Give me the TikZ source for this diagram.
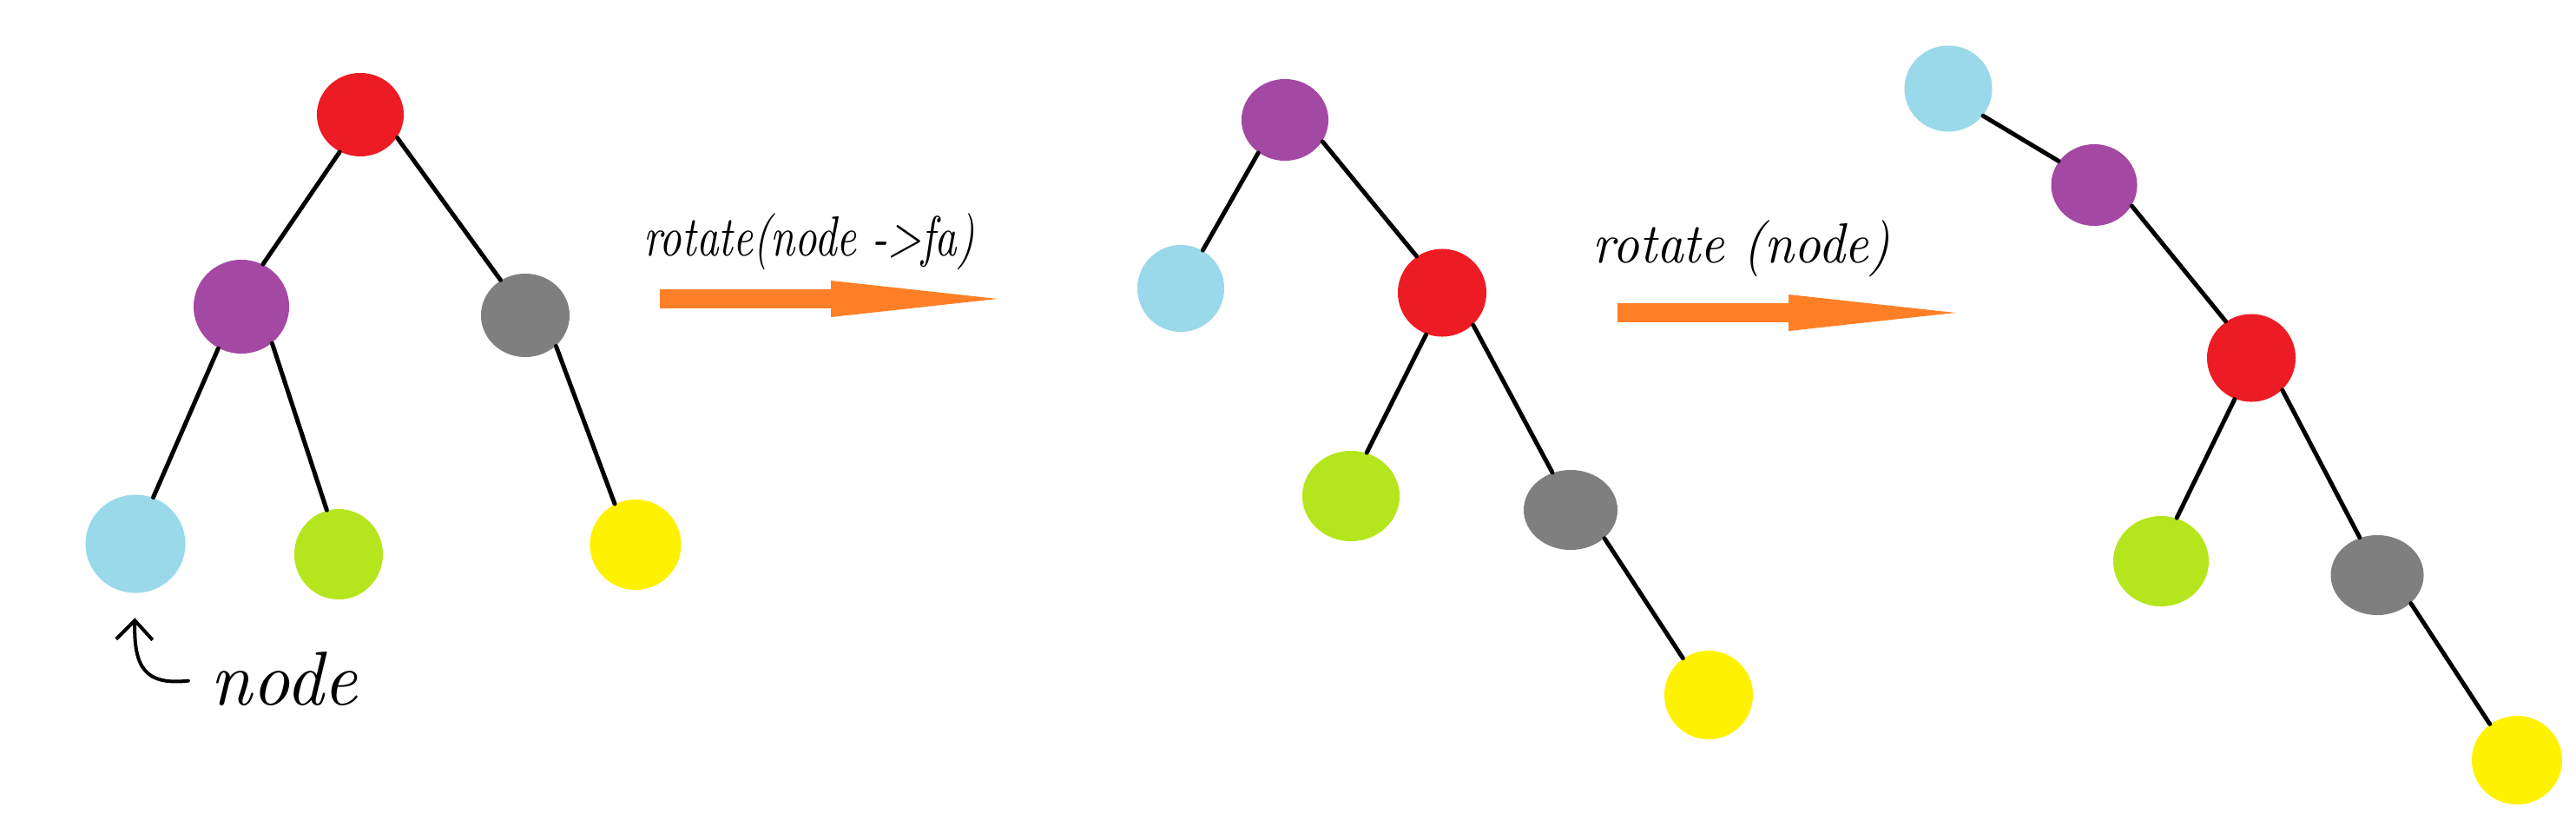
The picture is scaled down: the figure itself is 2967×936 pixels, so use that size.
\documentclass[tikz,border=0pt]{standalone}
\usepackage{fontspec}
\usepackage{tikz}
\usetikzlibrary{positioning}
\usetikzlibrary{shapes.geometric,arrows.meta}
\definecolor{paintRed}{HTML}{ED1C24}
\definecolor{paintPurple}{HTML}{A349A4}
\definecolor{paintGray}{HTML}{7F7F7F}
\definecolor{paintCyan}{HTML}{99D9EA}
\definecolor{paintLime}{HTML}{B5E61D}
\definecolor{paintYellow}{HTML}{FFF200}
\definecolor{paintOrange}{HTML}{FF7F27}
\tikzset{
    ball/.style n args={3}{ellipse, fill=#1, inner sep=0pt, minimum width=#2, minimum height=#3},
    link/.style={line width=0.05cm, line cap=round},
    handText/.style={inner sep=0pt, font=\itshape},
}
\tikzset{
    rotArrow/.pic={
		\fill[paintOrange] (0,-11) rectangle (197,11);
		\fill[paintOrange] (197,-21) -- (389,0) -- (197,21) -- cycle;
	}
}

\begin{document}
\begin{tikzpicture}[x=0.01cm, y=-0.01cm]
	\useasboundingbox (0,0) rectangle (2967,936);
	% before
	\node[ball={paintRed}{1.0cm}{0.96cm}] (red1) at (415,132) {};
	\node[ball={paintPurple}{1.1cm}{1.08cm}] (purple1) at (278,353) {};
	\node[ball={paintGray}{1.02cm}{0.96cm}] (gray1) at (605,363) {};
	\node[ball={paintCyan}{1.15cm}{1.13cm}] (cyan1) at (156,626) {};
	\node[ball={paintLime}{1.02cm}{1.04cm}] (lime1) at (390,638) {};
	\node[ball={paintYellow}{1.05cm}{1.04cm}] (yellow1) at (732,627) {};
	\draw[link] (red1.241) -- (purple1.63);
	\draw[link] (red1.-32) -- (gray1.125);
	\draw[link] (purple1.241) -- (cyan1.69);
	\draw[link] (purple1.-50) -- (lime1.105);
	\draw[link] (gray1.-45) -- (yellow1.117);
	% after rotate(node->fa)
	\node[ball={paintPurple}{1.0cm}{0.94cm}] (purple2) at (1480,138) {};
	\node[ball={paintCyan}{1.0cm}{1.0cm}] (cyan2) at (1360,332) {};
	\node[ball={paintRed}{1.02cm}{1.01cm}] (red2) at (1661,337) {};
	\node[ball={paintLime}{1.12cm}{1.04cm}] (lime2) at (1556,571) {};
	\node[ball={paintGray}{1.08cm}{0.92cm}] (gray2) at (1809,587) {};
	\node[ball={paintYellow}{1.02cm}{1.02cm}] (yellow2) at (1968,800) {};
	\draw[link] (purple2.231) -- (cyan2.60);
	\draw[link] (purple2.-30) -- (red2.125);
	\draw[link] (red2.249) -- (lime2.70);
	\draw[link] (red2.-46) -- (gray2.116);
	\draw[link] (gray2.-40) -- (yellow2.125);
	% after rotate(node)
	\node[ball={paintCyan}{1.01cm}{0.99cm}] (cyan3) at (2244,102) {};
	\node[ball={paintPurple}{0.99cm}{0.94cm}] (purple3) at (2412,213) {};
	\node[ball={paintRed}{1.02cm}{1.01cm}] (red3) at (2593,412) {};
	\node[ball={paintLime}{1.1cm}{1.04cm}] (lime3) at (2489,646) {};
	\node[ball={paintGray}{1.07cm}{0.92cm}] (gray3) at (2738,662) {};
	\node[ball={paintYellow}{1.04cm}{1.02cm}] (yellow3) at (2899,875) {};
	\draw[link] (cyan3.-38) -- (purple3.146);
	\draw[link] (purple3.-29) -- (red3.125);
	\draw[link] (red3.248) -- (lime3.70);
	\draw[link] (red3.-46) -- (gray3.115);
	\draw[link] (gray3.-40) -- (yellow3.127);
	% steps
	\pic at (760,344) {rotArrow};
	\pic at (1863,360) {rotArrow};
	\node[handText] (rotFa) at (932,278) {\resizebox*{3.81cm}{0.65cm}{rotate(node ->fa)}};
	\node[handText] (rotNode) at (2006,286) {\resizebox*{3.42cm}{0.65cm}{rotate {\addfontfeatures{LetterSpace=30}(node)}}};
	\node[handText] (nodeLbl) at (327,781) {\resizebox*{1.69cm}{0.62cm}{\addfontfeatures{LetterSpace=40}node}};
	\draw[line width=0.04cm, line cap=round, -{Straight Barb[length=0.22cm,width=0.42cm]}, shorten <=0.25cm, shorten >=0.28cm]
		(nodeLbl.west) .. controls +(-75,8) and +(-2,85) .. (cyan1.south);
\end{tikzpicture}
\end{document}
